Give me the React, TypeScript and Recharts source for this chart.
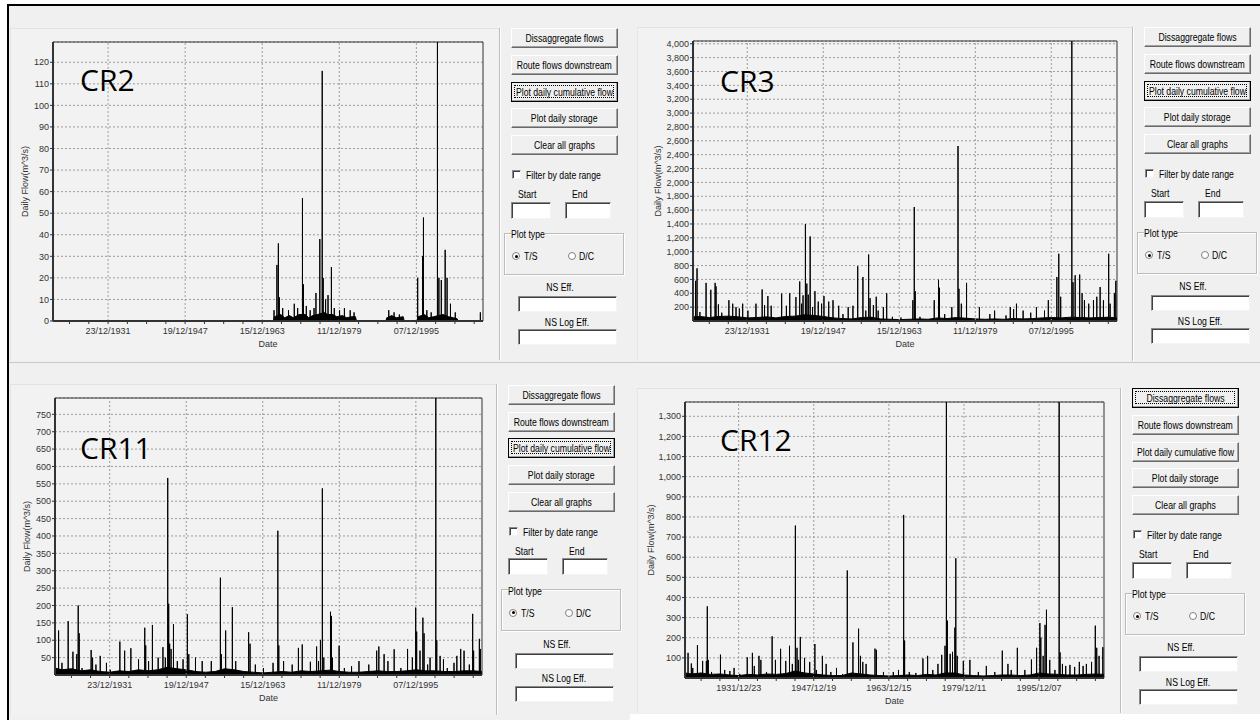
import React from 'react';
import { ComposedChart, Area, Line, XAxis, YAxis, CartesianGrid, ReferenceLine, ReferenceArea } from 'recharts';

type Pt = [number, number];

// time axis in decimal years
const X_MIN = 1920.55;
const X_MAX = 2009.75;

const dmyLabels = ['23/12/1931', '19/12/1947', '15/12/1963', '11/12/1979', '07/12/1995'];
const ymdLabels = ['1931/12/23', '1947/12/19', '1963/12/15', '1979/12/11', '1995/12/07'];

const cr2YTicks = [0, 10, 20, 30, 40, 50, 60, 70, 80, 90, 100, 110, 120];
const cr3YTicks = [200, 400, 600, 800, 1000, 1200, 1400, 1600, 1800, 2000, 2200, 2400, 2600, 2800, 3000, 3200, 3400, 3600, 3800, 4000];
const cr11YTicks = [50, 100, 150, 200, 250, 300, 350, 400, 450, 500, 550, 600, 650, 700, 750];
const cr12YTicks = [100, 200, 300, 400, 500, 600, 700, 800, 900, 1000, 1100, 1200, 1300];

// low-flow band [year, m^3/s]
const cr2Base: Pt[] = [
  [1920.55, 0], [1966.3, 0], [1966.5, 2], [1967.8, 3], [1968.6, 1.5], [1969.6, 2.5], [1970.4, 1.5], [1971.6, 3],
  [1972.9, 3], [1973.6, 1.5], [1974.4, 2.5], [1975.4, 3], [1976.9, 4], [1977.5, 3], [1978.6, 3], [1979.4, 2],
  [1980.6, 2.5], [1981.5, 1.5], [1982.6, 2], [1983.3, 2], [1983.5, 0], [1989.6, 0], [1989.8, 1.5], [1990.8, 2.5],
  [1991.8, 1.5], [1993.2, 2], [1993.4, 0], [1996.0, 0], [1996.3, 2], [1997.6, 3], [1998.5, 1.5], [1999.5, 2],
  [2000.5, 2.5], [2001.5, 3], [2002.6, 2], [2003.6, 1.5], [2004.4, 1], [2004.6, 0], [2009.75, 0],
];

// flow peaks [year, m^3/s]
const cr2Spikes: Pt[] = [
  [1966.4, 5], [1967.0, 26], [1967.3, 36], [1967.5, 11], [1968.2, 6], [1969.4, 5], [1970.6, 8], [1971.3, 6],
  [1972.3, 57], [1972.5, 17], [1973.1, 7], [1973.9, 5], [1974.7, 6], [1975.1, 13], [1975.9, 38], [1976.4, 116],
  [1976.6, 20], [1977.1, 10], [1977.6, 12], [1978.3, 25], [1978.9, 6], [1980.0, 5], [1981.0, 6], [1982.2, 5],
  [1983.0, 4], [1990.2, 5], [1991.3, 4], [1992.4, 3], [1996.2, 20], [1997.2, 30], [1997.4, 48], [1998.1, 5],
  [1999.0, 4], [2000.3, 129.4], [2000.6, 20], [2001.1, 19], [2001.9, 33], [2002.3, 20], [2003.0, 8], [2004.0, 4],
  [2009.2, 4],
];

const cr3Base: Pt[] = [
  [1920.55, 60], [1922, 65], [1924, 50], [1926, 65], [1928, 70], [1930, 60], [1932, 45], [1934, 50], [1936, 60],
  [1938, 45], [1940, 65], [1942, 70], [1944, 90], [1946, 80], [1948, 65], [1950, 45], [1952, 35], [1954, 30],
  [1956, 50], [1958, 55], [1960, 30], [1962, 25], [1964, 20], [1966, 25], [1968, 30], [1970, 25], [1972, 45],
  [1974, 35], [1976, 50], [1978, 40], [1980, 30], [1982, 25], [1984, 30], [1986, 25], [1988, 35], [1990, 30],
  [1992, 35], [1994, 45], [1996, 50], [1998, 45], [2000, 55], [2002, 50], [2004, 45], [2006, 50], [2008, 55],
  [2009.75, 45],
];

const cr3Spikes: Pt[] = [
  [1921.1, 580], [1921.4, 760], [1922.0, 130], [1923.3, 550], [1924.3, 450], [1925.2, 550], [1925.4, 500],
  [1925.9, 240], [1926.6, 120], [1928.1, 300], [1928.9, 250], [1929.6, 200], [1930.3, 180], [1931.0, 250],
  [1932.1, 150], [1933.8, 250], [1935.1, 455], [1935.6, 230], [1936.3, 360], [1937.0, 220], [1939.2, 395],
  [1940.2, 220], [1940.9, 400], [1942.2, 345], [1943.0, 570], [1943.4, 250], [1943.7, 370], [1944.2, 1400],
  [1944.5, 540], [1944.8, 380], [1945.2, 1220], [1945.7, 200], [1946.2, 430], [1946.9, 280], [1947.6, 250],
  [1948.1, 360], [1949.1, 280], [1950.0, 300], [1951.2, 220], [1952.1, 100], [1953.2, 200], [1954.2, 220],
  [1955.2, 790], [1956.3, 635], [1956.9, 150], [1957.5, 960], [1957.8, 330], [1958.5, 230], [1959.1, 350],
  [1959.5, 150], [1960.6, 200], [1961.3, 400], [1962.5, 60], [1964.3, 50], [1966.8, 300], [1967.1, 1645],
  [1967.3, 430], [1968.3, 60], [1971.3, 300], [1972.2, 595], [1972.4, 480], [1973.5, 100], [1975.0, 200],
  [1976.3, 2525], [1976.5, 465], [1977.0, 250], [1978.1, 550], [1980.8, 200], [1983.0, 100], [1984.0, 150],
  [1986.4, 80], [1987.3, 200], [1988.0, 170], [1988.6, 250], [1990.0, 150], [1991.6, 120], [1992.8, 200],
  [1994.5, 150], [1995.3, 300], [1997.1, 635], [1997.5, 970], [1997.9, 350], [2000.25, 4040], [2000.5, 560],
  [2000.95, 660], [2001.9, 670], [2002.4, 400], [2002.9, 300], [2003.8, 250], [2004.8, 300], [2005.5, 350],
  [2006.2, 490], [2006.9, 300], [2008.0, 970], [2008.3, 250], [2009.2, 400], [2009.5, 580],
];

const cr11Base: Pt[] = [
  [1920.55, 20], [1922, 15], [1924, 18], [1926, 12], [1928, 15], [1930, 10], [1932, 8], [1934, 12], [1936, 10],
  [1938, 15], [1940, 12], [1942, 15], [1944, 22], [1946, 18], [1948, 15], [1950, 10], [1952, 8], [1954, 10],
  [1956, 18], [1958, 15], [1960, 10], [1962, 8], [1964, 6], [1966, 8], [1968, 10], [1970, 8], [1972, 12],
  [1974, 10], [1976, 12], [1978, 14], [1980, 10], [1982, 8], [1984, 8], [1986, 10], [1988, 12], [1990, 10],
  [1992, 10], [1994, 12], [1996, 15], [1998, 12], [2000, 12], [2002, 10], [2004, 10], [2006, 12], [2008, 12],
  [2009.75, 10],
];

const cr11Spikes: Pt[] = [
  [1921.3, 128], [1922.0, 35], [1923.3, 155], [1924.3, 67], [1925.1, 60], [1925.4, 200], [1925.6, 120],
  [1926.2, 20], [1928.1, 72], [1928.4, 50], [1929.1, 30], [1930.0, 55], [1931.3, 35], [1932.1, 15], [1934.1, 96],
  [1935.1, 70], [1936.4, 77], [1938.0, 45], [1939.3, 136], [1939.5, 85], [1940.1, 40], [1940.9, 144], [1942.1, 50],
  [1943.1, 80], [1943.6, 50], [1944.1, 567], [1944.3, 205], [1944.5, 90], [1944.8, 75], [1945.3, 146],
  [1946.1, 40], [1947.3, 45], [1948.2, 175], [1948.5, 60], [1949.9, 50], [1951.3, 40], [1953.2, 40],
  [1955.1, 280], [1955.3, 60], [1956.2, 128], [1957.6, 195], [1958.3, 40], [1961.0, 123], [1961.3, 90],
  [1962.4, 30], [1964.1, 20], [1966.1, 35], [1967.1, 415], [1967.3, 85], [1968.3, 40], [1970.1, 30],
  [1971.4, 78], [1972.2, 88], [1973.9, 38], [1975.2, 82], [1975.6, 40], [1976.0, 101], [1976.4, 537],
  [1976.7, 50], [1978.1, 182], [1978.3, 170], [1978.5, 50], [1979.9, 84], [1981.0, 20], [1982.5, 25],
  [1984.05, 40], [1986.1, 30], [1987.75, 70], [1988.2, 82], [1989.3, 60], [1990.1, 40], [1991.4, 74],
  [1992.8, 20], [1994.2, 75], [1995.2, 50], [1995.9, 194], [1996.1, 125], [1996.8, 70], [1997.4, 165],
  [1997.65, 120], [1998.4, 30], [1998.9, 50], [2000.1, 797], [2000.3, 100], [2001.0, 55], [2001.7, 45],
  [2002.5, 20], [2003.9, 35], [2004.5, 55], [2005.3, 75], [2006.0, 70], [2007.1, 30], [2007.8, 176],
  [2008.0, 70], [2009.2, 104], [2009.4, 75],
];

const cr12Base: Pt[] = [
  [1920.55, 25], [1922, 20], [1924, 25], [1926, 18], [1928, 20], [1930, 15], [1932, 12], [1934, 18], [1936, 15],
  [1938, 20], [1940, 18], [1942, 22], [1944, 35], [1946, 25], [1948, 20], [1950, 15], [1952, 12], [1954, 12],
  [1956, 25], [1958, 20], [1960, 15], [1962, 12], [1964, 10], [1966, 12], [1968, 15], [1970, 12], [1972, 18],
  [1974, 15], [1976, 25], [1978, 25], [1980, 15], [1982, 12], [1984, 10], [1986, 12], [1988, 15], [1990, 15],
  [1992, 12], [1994, 15], [1996, 25], [1998, 20], [2000, 18], [2002, 15], [2004, 15], [2006, 18], [2008, 20],
  [2009.75, 18],
];

const cr12Spikes: Pt[] = [
  [1921.2, 125], [1921.9, 72], [1922.2, 50], [1923.2, 163], [1924.3, 85], [1925.1, 85], [1925.3, 356],
  [1925.5, 90], [1926.2, 30], [1928.1, 116], [1929.0, 40], [1930.1, 35], [1931.0, 50], [1932.2, 20],
  [1933.8, 103], [1934.9, 125], [1935.3, 60], [1936.3, 110], [1936.7, 90], [1937.9, 30], [1939.1, 207],
  [1939.8, 90], [1940.9, 145], [1942.0, 85], [1942.8, 160], [1943.4, 70], [1944.05, 757], [1944.4, 150],
  [1944.7, 90], [1945.1, 204], [1946.0, 100], [1947.1, 80], [1948.2, 169], [1948.5, 40], [1949.8, 110],
  [1950.6, 70], [1951.6, 30], [1952.8, 50], [1954.1, 20], [1955.1, 534], [1956.3, 177], [1957.5, 245],
  [1957.9, 110], [1958.4, 80], [1959.1, 70], [1961.0, 146], [1961.3, 140], [1962.8, 30], [1964.9, 30],
  [1966.0, 40], [1967.1, 810], [1967.3, 186], [1968.3, 30], [1969.7, 25], [1971.2, 97], [1972.2, 110],
  [1973.3, 40], [1974.4, 70], [1975.2, 115], [1975.9, 160], [1976.2, 1371], [1976.4, 285], [1977.0, 120],
  [1977.5, 130], [1978.0, 250], [1978.2, 595], [1978.5, 110], [1979.8, 85], [1981.2, 90], [1983.0, 30],
  [1984.7, 60], [1986.5, 30], [1988.1, 136], [1989.3, 70], [1990.0, 40], [1991.3, 150], [1992.9, 40],
  [1994.3, 92], [1995.4, 150], [1996.1, 273], [1996.3, 200], [1996.8, 110], [1997.2, 264], [1997.5, 339],
  [1998.2, 90], [1999.3, 40], [2000.2, 1371], [2000.4, 127], [2000.9, 70], [2001.6, 60], [2002.5, 65],
  [2003.5, 55], [2004.5, 80], [2005.3, 60], [2006.0, 70], [2007.1, 80], [2007.9, 260], [2008.2, 150],
  [2008.7, 110], [2009.5, 153],
];

const axisFont = "'Liberation Sans', Arial, sans-serif";
const uiFont = "'Liberation Sans', Arial, sans-serif";
const gridColor = '#9c9c9c';
const frameColor = '#333';

// "23/12/1931" or "1931/12/23" -> decimal year
function labelYear(label: string) {
  const p = label.split('/').map(Number);
  const [y, m, d] = p[0] > 31 ? p : [p[2], p[1], p[0]];
  const start = Date.UTC(y, 0, 1);
  const end = Date.UTC(y + 1, 0, 1);
  return y + (Date.UTC(y, m - 1, d) - start) / (end - start);
}

interface PlotRect { left: number; top: number; right: number; bottom: number }

interface FlowChartProps {
  plot: PlotRect;
  yMax: number;
  yTicks: number[];
  base: Pt[];
  spikes: Pt[];
  labels: string[];
  yLabelX: number;
}

function FlowChart({ plot, yMax, yTicks, base, spikes, labels, yLabelX }: FlowChartProps) {
  const yAxisW = 45, mt = 10, mr = 10, xAxisH = 30, mb = 6;
  const w = yAxisW + (plot.right - plot.left) + mr;
  const h = mt + (plot.bottom - plot.top) + xAxisH + mb;
  const left = plot.left - yAxisW;
  const top = plot.top - mt;

  const majors = labels.map(labelYear);
  const step = (majors[1] - majors[0]) / 4;
  const ticks: number[] = [];
  for (let k = -4; k <= 24; k++) {
    const t = majors[0] + k * step;
    if (t >= X_MIN && t <= X_MAX) ticks.push(t);
  }
  const fmt = (v: number) => {
    const i = majors.findIndex((m) => Math.abs(m - v) < 1e-6);
    return i >= 0 ? labels[i] : '';
  };

  const baseRows = base.map(([t, v]) => ({ t, v }));
  // each peak is drawn as a vertical stroke up from zero and back
  const spikeRows = spikes.flatMap(([t, v]) => [{ t, v: 0 }, { t, v }, { t, v: 0 }]);

  return (
    <div style={{ position: 'absolute', left, top }}>
      <ComposedChart width={w} height={h} margin={{ top: mt, right: mr, bottom: mb, left: 0 }}>
        <CartesianGrid vertical={false} stroke={gridColor} strokeDasharray="2 2" />
        {majors.map((t) => (
          <ReferenceLine key={t} x={t} stroke={gridColor} strokeDasharray="2 2" />
        ))}
        <XAxis
          type="number"
          dataKey="t"
          domain={[X_MIN, X_MAX]}
          allowDataOverflow
          ticks={ticks}
          interval={0}
          tickFormatter={fmt}
          height={xAxisH}
          tickSize={3}
          tickMargin={4}
          axisLine={{ stroke: frameColor, strokeWidth: 2 }}
          tickLine={{ stroke: frameColor }}
          tick={{ fontSize: 9, fill: '#333', fontFamily: axisFont }}
          label={{ value: 'Date', position: 'insideBottom', offset: 4, fontSize: 9, fill: '#333', fontFamily: axisFont }}
        />
        <YAxis
          type="number"
          domain={[0, yMax]}
          allowDataOverflow
          ticks={yTicks}
          interval={0}
          width={yAxisW}
          tickSize={3}
          tickMargin={1}
          tickFormatter={(v: number) => v.toLocaleString('en-US')}
          axisLine={{ stroke: frameColor, strokeWidth: 2 }}
          tickLine={{ stroke: frameColor }}
          tick={{ fontSize: 9, fill: '#333', fontFamily: axisFont }}
          label={{
            value: 'Daily Flow(m^3/s)',
            angle: -90,
            position: 'center',
            dx: yLabelX - (left + yAxisW / 2),
            fontSize: 9,
            fill: '#333',
            fontFamily: axisFont,
          }}
        />
        <Area
          data={baseRows}
          dataKey="v"
          type="linear"
          stroke="#000"
          strokeWidth={1}
          fill="#000"
          fillOpacity={1}
          dot={false}
          activeDot={false}
          isAnimationActive={false}
        />
        <Line
          data={spikeRows}
          dataKey="v"
          type="linear"
          stroke="#000"
          strokeWidth={1}
          dot={false}
          activeDot={false}
          isAnimationActive={false}
        />
        <ReferenceArea x1={X_MIN} x2={X_MAX} y1={0} y2={yMax} fill="none" stroke={frameColor} strokeWidth={1} />
      </ComposedChart>
    </div>
  );
}

// ---- form controls ----

const SQ = 0.79;

function Txt({ x, y, center, bg, children }: { x: number; y: number; center?: boolean; bg?: boolean; children: React.ReactNode }) {
  return (
    <div
      style={{
        position: 'absolute',
        left: x,
        top: y - 7,
        height: 14,
        lineHeight: '14px',
        fontSize: 11,
        whiteSpace: 'nowrap',
        color: '#000',
        background: bg ? '#f0f0f0' : undefined,
        transformOrigin: center ? 'center' : 'left center',
        transform: center ? `translateX(-50%) scaleX(${SQ})` : `scaleX(${SQ})`,
      }}
    >
      {children}
    </div>
  );
}

function Button({ x, y, w, h, focused, children }: { x: number; y: number; w: number; h: number; focused?: boolean; children: React.ReactNode }) {
  return (
    <div
      style={{
        position: 'absolute',
        left: x,
        top: y,
        width: w,
        height: h,
        boxSizing: 'border-box',
        background: '#f0f0f0',
        border: '1px solid',
        borderColor: focused ? '#000' : '#fff #6a6a6a #6a6a6a #fff',
        boxShadow: 'inset -1px -1px 0 #a0a0a0',
        display: 'flex',
        alignItems: 'center',
        justifyContent: 'center',
      }}
    >
      {focused && (
        <div style={{ position: 'absolute', left: 2, top: 2, right: 3, bottom: 3, border: '1px dotted #000' }} />
      )}
      <span style={{ fontSize: 11, whiteSpace: 'nowrap', transform: `scaleX(${SQ})`, display: 'inline-block' }}>{children}</span>
    </div>
  );
}

function TextBox({ x, y, w, h }: { x: number; y: number; w: number; h: number }) {
  return (
    <div
      style={{
        position: 'absolute',
        left: x,
        top: y,
        width: w,
        height: h,
        boxSizing: 'border-box',
        background: '#fff',
        border: '1px solid',
        borderColor: '#8a8a8a #f4f4f4 #f4f4f4 #8a8a8a',
        boxShadow: 'inset 1px 1px 0 #404040',
      }}
    />
  );
}

function CheckBox({ x, y }: { x: number; y: number }) {
  return <TextBox x={x} y={y} w={9} h={9} />;
}

function Radio({ cx, cy, checked }: { cx: number; cy: number; checked?: boolean }) {
  return (
    <div
      style={{
        position: 'absolute',
        left: cx - 4,
        top: cy - 4,
        width: 8,
        height: 8,
        boxSizing: 'border-box',
        borderRadius: '50%',
        background: '#fff',
        border: '1px solid #808080',
        display: 'flex',
        alignItems: 'center',
        justifyContent: 'center',
      }}
    >
      {checked && <div style={{ width: 3, height: 3, borderRadius: '50%', background: '#000' }} />}
    </div>
  );
}

function GroupBox({ x, y, w, h }: { x: number; y: number; w: number; h: number }) {
  return (
    <div
      style={{
        position: 'absolute',
        left: x,
        top: y,
        width: w,
        height: h,
        boxSizing: 'border-box',
        border: '1px solid #bcbcbc',
        boxShadow: 'inset 1px 1px 0 #fff, 1px 1px 0 #fff',
      }}
    />
  );
}

const buttonLabels = ['Dissaggregate flows', 'Route flows downstream', 'Plot daily cumulative flow', 'Plot daily storage', 'Clear all graphs'];

function ControlColumn({ x, y, focus }: { x: number; y: number; focus: number }) {
  return (
    <>
      {buttonLabels.map((l, i) => (
        <Button key={l} x={x} y={y + i * 26.7} w={107} h={20} focused={i === focus}>
          {l}
        </Button>
      ))}
      <CheckBox x={x + 0.7} y={y + 141.7} />
      <Txt x={x + 15} y={y + 146.7}>Filter by date range</Txt>
      <Txt x={x + 6.7} y={y + 165.7}>Start</Txt>
      <Txt x={x + 60.7} y={y + 165.7}>End</Txt>
      <TextBox x={x} y={y + 173.4} w={40} h={17} />
      <TextBox x={x + 54} y={y + 173.4} w={46} h={17} />
      <GroupBox x={x - 7} y={y + 204.4} w={120} h={42} />
      <Txt x={x} y={y + 206} bg>
        Plot type
      </Txt>
      <Radio cx={x + 5} cy={y + 227.7} checked />
      <Txt x={x + 13} y={y + 227.7}>T/S</Txt>
      <Radio cx={x + 60.7} cy={y + 227.7} />
      <Txt x={x + 68} y={y + 227.7}>D/C</Txt>
      <Txt x={x + 49} y={y + 259} center>
        NS Eff.
      </Txt>
      <TextBox x={x + 7} y={y + 267.7} w={99} h={16} />
      <Txt x={x + 55.7} y={y + 293.4} center>
        NS Log Eff.
      </Txt>
      <TextBox x={x + 7} y={y + 300.7} w={99} h={16} />
    </>
  );
}

function Separator({ x, y1, y2 }: { x: number; y1: number; y2: number }) {
  return (
    <div style={{ position: 'absolute', left: x, top: y1, width: 1, height: y2 - y1, background: '#bdbdbd', boxShadow: '1px 0 0 #fff' }} />
  );
}

function ChartFrame({ x1, y1, x2, y2 }: { x1: number; y1: number; x2: number; y2: number }) {
  return (
    <div
      style={{
        position: 'absolute',
        left: x1,
        top: y1,
        width: x2 - x1,
        height: y2 - y1,
        boxSizing: 'border-box',
        background: '#f2f2f2',
        borderTop: '1px solid #e2e2e2',
        borderLeft: '1px solid #e6e6e6',
      }}
    />
  );
}

function Title({ x, y, children }: { x: number; y: number; children: React.ReactNode }) {
  return (
    <div
      style={{
        position: 'absolute',
        left: x,
        top: y,
        fontFamily: "'Open Sans', 'Noto Sans', sans-serif",
        fontSize: 30,
        lineHeight: '30px',
        color: '#000',
        whiteSpace: 'nowrap',
      }}
    >
      {children}
    </div>
  );
}

export default function App() {
  return (
    <div
      style={{
        position: 'absolute',
        left: 0,
        top: 0,
        width: 1260,
        height: 720,
        overflow: 'hidden',
        background: '#fff',
        fontFamily: uiFont,
      }}
    >
      <div style={{ position: 'absolute', left: 8, top: 5, width: 1252, height: 715, background: '#f0f0f0' }} />
      <div style={{ position: 'absolute', left: 630, top: 714, width: 630, height: 6, background: '#fff' }} />
      <div style={{ position: 'absolute', left: 7, top: 4, width: 1253, height: 2, background: '#000' }} />
      <div style={{ position: 'absolute', left: 7, top: 4, width: 2, height: 716, background: '#000' }} />
      <div style={{ position: 'absolute', left: 9, top: 362, width: 1251, height: 1, background: '#c8c8c8' }} />

      <ChartFrame x1={10} y1={28} x2={499} y2={360} />
      <ChartFrame x1={637} y1={27} x2={1132} y2={361} />
      <ChartFrame x1={10} y1={384} x2={496} y2={715} />
      <ChartFrame x1={637} y1={388} x2={1120} y2={713} />

      <Separator x={499} y1={28} y2={360} />
      <Separator x={1132} y1={27} y2={361} />
      <Separator x={496} y1={384} y2={715} />
      <Separator x={1120} y1={388} y2={713} />

      <FlowChart
        plot={{ left: 53, top: 42, right: 483, bottom: 321 }}
        yMax={129.4}
        yTicks={cr2YTicks}
        base={cr2Base}
        spikes={cr2Spikes}
        labels={dmyLabels}
        yLabelX={25}
      />
      <FlowChart
        plot={{ left: 693, top: 41, right: 1117, bottom: 321 }}
        yMax={4040}
        yTicks={cr3YTicks}
        base={cr3Base}
        spikes={cr3Spikes}
        labels={dmyLabels}
        yLabelX={658}
      />
      <FlowChart
        plot={{ left: 55, top: 398, right: 482, bottom: 675 }}
        yMax={797}
        yTicks={cr11YTicks}
        base={cr11Base}
        spikes={cr11Spikes}
        labels={dmyLabels}
        yLabelX={27}
      />
      <FlowChart
        plot={{ left: 685, top: 402, right: 1104, bottom: 678 }}
        yMax={1371}
        yTicks={cr12YTicks}
        base={cr12Base}
        spikes={cr12Spikes}
        labels={ymdLabels}
        yLabelX={651}
      />

      <Title x={80} y={65}>CR2</Title>
      <Title x={720} y={66}>CR3</Title>
      <Title x={80} y={433}>CR11</Title>
      <Title x={720} y={425}>CR12</Title>

      <ControlColumn x={511} y={28.3} focus={2} />
      <ControlColumn x={1144} y={27.3} focus={2} />
      <ControlColumn x={508} y={385} focus={2} />
      <ControlColumn x={1132} y={388.3} focus={0} />
    </div>
  );
}
